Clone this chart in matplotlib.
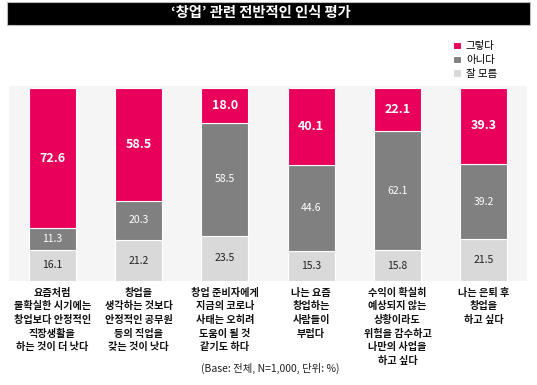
import matplotlib.pyplot as plt
from matplotlib.patches import Rectangle

plt.rcParams['font.family'] = ['Noto Sans CJK KR', 'DejaVu Sans']

# data
categories = [
    "요즘처럼\n불확실한 시기에는\n창업보다 안정적인\n직장생활을\n하는 것이 더 낫다",
    "창업을\n생각하는 것보다\n안정적인 공무원\n등의 직업을\n갖는 것이 낫다",
    "창업 준비자에게\n지금의 코로나\n사태는 오히려\n도움이 될 것\n같기도 하다",
    "나는 요즘\n창업하는\n사람들이\n부럽다",
    "수익이 확실히\n예상되지 않는\n상황이라도\n위험을 감수하고\n나만의 사업을\n하고 싶다",
    "나는 은퇴 후\n창업을\n하고 싶다",
]
yes = [72.6, 58.5, 18.0, 40.1, 22.1, 39.3]
no = [11.3, 20.3, 58.5, 44.6, 62.1, 39.2]
dunno = [16.1, 21.2, 23.5, 15.3, 15.8, 21.5]

c_yes = "#e8005a"
c_no = "#808080"
c_dunno = "#d9d9d9"

fig = plt.figure(figsize=(5.37, 3.85), dpi=100)

# title bar
fig.patches.append(Rectangle((7 / 537, 1 - 25 / 385), 523 / 537, 23 / 385,
                             transform=fig.transFigure, facecolor="black",
                             edgecolor="#bbbbbb", lw=0.8))
fig.text(261 / 537, 1 - 13.5 / 385, "‘창업’ 관련 전반적인 인식 평가", color="white",
         ha="center", va="center", fontsize=10.3, fontweight="bold")

ax = fig.add_axes([9 / 537, 104 / 385, 518 / 537, 195 / 385])
ax.set_facecolor("#f5f5f5")
x = range(len(categories))
w = 0.545
b1 = ax.bar(x, dunno, w, color=c_dunno, edgecolor="white", lw=0.8, label="잘 모름")
b2 = ax.bar(x, no, w, bottom=dunno, color=c_no, edgecolor="white", lw=0.8, label="아니다")
bot2 = [d + n for d, n in zip(dunno, no)]
b3 = ax.bar(x, yes, w, bottom=bot2, color=c_yes, edgecolor="white", lw=0.8, label="그렇다")

for i in x:
    ax.text(i, dunno[i] / 2, f"{dunno[i]:.1f}", ha="center", va="center",
            fontsize=7.5, color="#222222")
    ax.text(i, dunno[i] + no[i] / 2, f"{no[i]:.1f}", ha="center", va="center",
            fontsize=7.5, color="white")
    ax.text(i, bot2[i] + yes[i] / 2, f"{yes[i]:.1f}", ha="center", va="center",
            fontsize=9, color="white", fontweight="bold")
    ax.text(i, -3.5, categories[i], ha="center", va="top", fontsize=7.3,
            fontweight="bold", linespacing=1.45, color="#111111")

ax.set_xlim(-0.5, 5.5)
ax.set_ylim(0, 101)
ax.set_xticks([])
ax.set_yticks([])
for s in ax.spines.values():
    s.set_visible(False)

fig.legend(handles=[b3, b2, b1], labels=["그렇다", "아니다", "잘 모름"],
           loc="upper left", bbox_to_anchor=(444 / 537, 1 - 32 / 385),
           frameon=False, fontsize=7.5, handlelength=0.7, handleheight=0.7,
           handletextpad=0.5, labelspacing=0.35)

fig.text(270 / 537, 1 - 368 / 385, "(Base: 전체, N=1,000, 단위: %)",
         ha="center", va="center", fontsize=7.5, color="#222222")

plt.savefig("out.png", dpi=100)
plt.close()
